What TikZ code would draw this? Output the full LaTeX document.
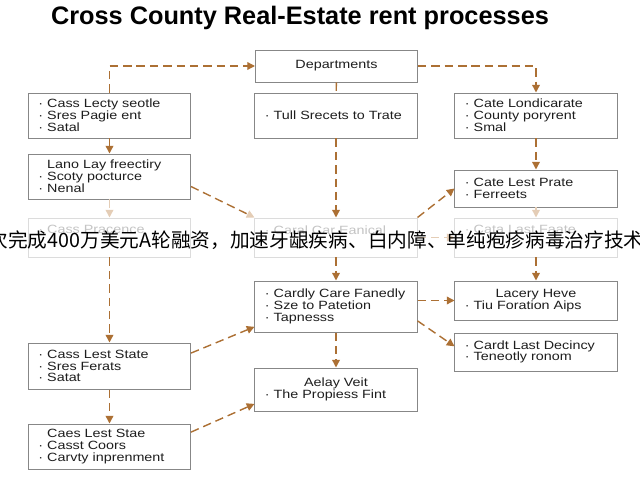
\documentclass[tikz,border=0pt]{standalone}
\usepackage{fontspec}
\setmainfont{Liberation Sans}
\newfontfamily\boxfont{Liberation Sans}[FakeStretch=1.2]
\newfontfamily\cjk{Noto Sans CJK SC}
\usetikzlibrary{arrows.meta}

\definecolor{flowbrown}{RGB}{172,112,52}
\definecolor{fadebrown}{RGB}{228,205,182}
\definecolor{boxgray}{RGB}{135,135,135}
\definecolor{fadegray}{RGB}{220,220,220}
\definecolor{fadetext}{RGB}{196,196,196}
\definecolor{inkgray}{RGB}{30,30,30}

\newcommand{\itm}[1]{\textperiodcentered\ #1}
\newcommand{\nob}[1]{\phantom{\textperiodcentered\ }#1}
\newcommand{\ctrline}[1]{\makebox[\hsize][c]{#1}}

\tikzset{
  procbox/.style={draw=boxgray, line width=0.7pt, fill=white, text=inkgray,
    inner xsep=0.25cm, inner ysep=2pt, text width=3.55cm, align=left,
    font=\boxfont\fontsize{8.5}{8.4}\selectfont},
  fadebox/.style={procbox, draw=fadegray, text=fadetext},
  flow/.style={draw=flowbrown, line width=1pt, dash pattern=on 6pt off 3.5pt},
  fadeflow/.style={flow, draw=fadebrown},
  fadetip/.style={-{Triangle[length=5.5pt,width=5.5pt,color=fadebrown]}},
}

\begin{document}
\begin{tikzpicture}[x=0.025cm,y=-0.025cm,>={Triangle[length=5.5pt,width=5.5pt]}]
    \useasboundingbox (0,0) rectangle (640,480);
    \node[font=\bfseries\fontsize{18}{21}\selectfont] (title) at (300,18)
        {Cross County Real-Estate rent processes};

    % top row
    \node[procbox, minimum height=0.8cm, align=center] (dep) at (336.5,66)
        {Departments};

    % left column
    \node[procbox, minimum height=1.125cm] (l1) at (109.5,115.5)
        {\itm{Cass Lecty seotle}\\ \itm{Sres Pagie ent}\\ \itm{Satal}};
    \node[procbox, minimum height=1.125cm] (l2) at (109.5,176.5)
        {\nob{Lano Lay freectiry}\\ \itm{Scoty pocturce}\\ \itm{Nenal}};
    \node[fadebox, minimum height=0.975cm] (l3) at (109.5,237.5)
        {\itm{Cass Pracence}\\ \strut};
    \node[procbox, minimum height=1.15cm] (l4) at (109.5,366)
        {\itm{Cass Lest State}\\ \itm{Sres Ferats}\\ \itm{Satat}};
    \node[procbox, minimum height=1.125cm] (l5) at (109.5,446.5)
        {\nob{Caes Lest Stae}\\ \itm{Casst Coors}\\ \itm{Carvty inprenment}};

    % middle column
    \node[procbox, minimum height=1.125cm] (m1) at (336,115.5)
        {\itm{Tull Srecets to Trate}};
    \node[fadebox, minimum height=0.975cm] (m2) at (336,237.5)
        {\itm{Caral Car Eanical}\\ \strut};
    \node[procbox, minimum height=1.275cm] (m3) at (336,306.5)
        {\itm{Cardly Care Fanedly}\\ \itm{Sze to Patetion}\\ \itm{Tapnesss}};
    \node[procbox, minimum height=1.075cm] (m4) at (336,389.5)
        {\ctrline{Aelay Veit}\\ \itm{The Propiess Fint}};

    % right column
    \node[procbox, minimum height=1.125cm] (r1) at (536,115.5)
        {\itm{Cate Londicarate}\\ \itm{County poryrent}\\ \itm{Smal}};
    \node[procbox, minimum height=0.925cm] (r2) at (536,188.5)
        {\itm{Cate Lest Prate}\\ \itm{Ferreets}};
    \node[fadebox, minimum height=0.975cm] (r3) at (536,237.5)
        {\itm{Cata Last Faate}\\ \strut};
    \node[procbox, minimum height=0.975cm] (r4) at (536,300.5)
        {\ctrline{Lacery Heve}\\ \itm{Tiu Foration Aips}};
    \node[procbox, minimum height=0.95cm] (r5) at (536,352)
        {\itm{Cardt Last Decincy}\\ \itm{Teneotly ronom}};

    % connectors
    \draw[flow,->] (l1.north) |- (dep.west);
    \draw[flow,->] (dep.east) -| (r1.north);
    \draw[flow] (dep) -- (m1);
    \draw[flow,->] (m1) -- (m2);
    \draw[flow,->] (l1) -- (l2);
    \draw[fadeflow,->] (l2) -- (l3);
    \draw[flow,fadetip] (l2.-7) -- (m2.north west);
    \draw[flow,->] (m2.north east) -- (r2.west);
    \draw[flow,->] (r1) -- (r2);
    \draw[fadeflow,->] (r2) -- (r3);
    \draw[fadeflow,->] (m2) -- (r3);
    \draw[flow,->] (l3) -- (l4);
    \draw[flow,->] (m2) -- (m3);
    \draw[flow,->] (r3) -- (r4);
    \draw[flow,->] (l4.9) -- (m3.194);
    \draw[flow,->] (m3.east |- r4.west) -- (r4.west);
    \draw[flow,->] (m3.-10) -- (r5.176);
    \draw[flow,->] (m3) -- (m4);
    \draw[flow,->] (l4) -- (l5);
    \draw[flow,->] (l5.10) -- (m4.190);

    % overlaid caption line
    \begin{scope}
        \clip (0,0) rectangle (640,480);
        \node[anchor=west, inner sep=0pt, font=\cjk\fontsize{14}{16}\selectfont]
            (news) at (-11.7,240)
            {次完成400万美元A轮融资，加速牙龈疾病、白内障、单纯疱疹病毒治疗技术};
    \end{scope}
\end{tikzpicture}
\end{document}
